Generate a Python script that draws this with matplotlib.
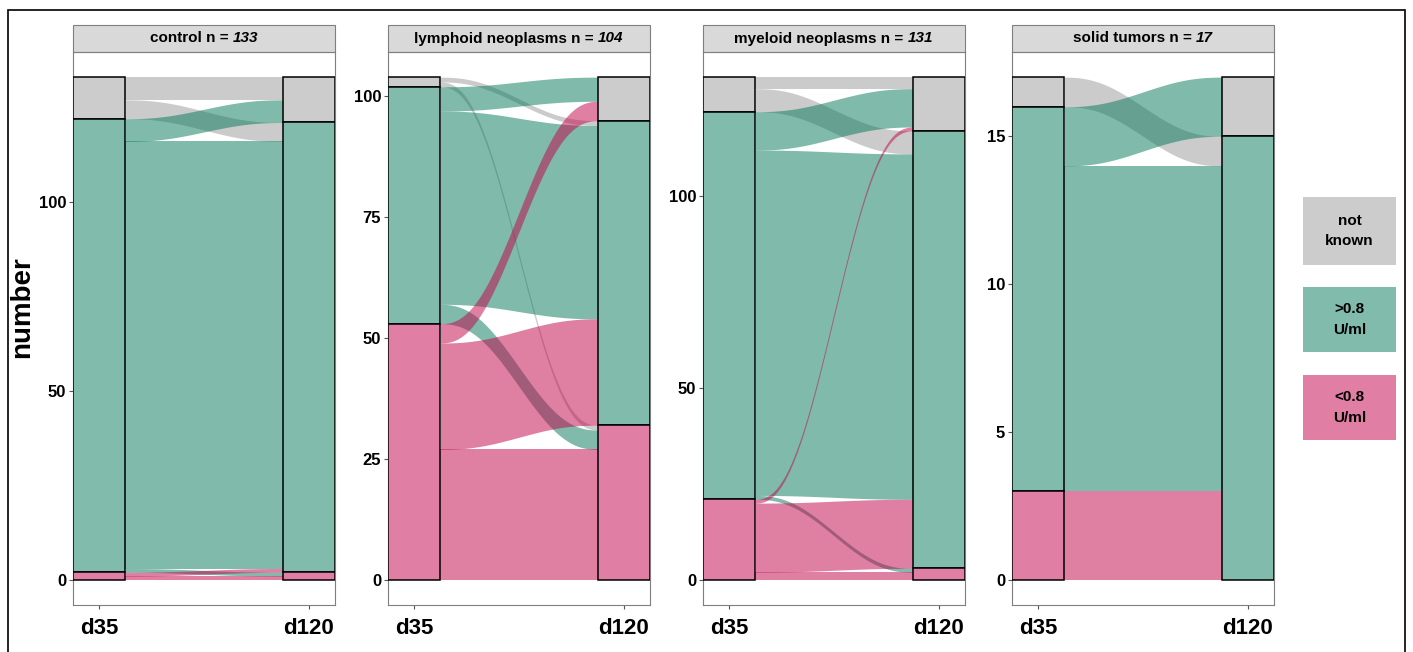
import matplotlib.pyplot as plt
import numpy as np
from matplotlib.patches import Rectangle
from matplotlib.offsetbox import TextArea, HPacker, AnchoredOffsetbox

plt.rcParams['font.family'] = ['Liberation Sans', 'DejaVu Sans']

facet_names = ['control', 'lymphoid neoplasms', 'myeloid neoplasms', 'solid tumors']
facet_n = [133, 104, 131, 17]
facet_ticks = [[0, 50, 100], [0, 25, 50, 75, 100], [0, 50, 100], [0, 5, 10, 15]]
time_labels = ['d35', 'd120']
levels = ['not\nknown', '>0.8\nU/ml', '<0.8\nU/ml']  # top to bottom in the stack

# patients d35 -> d120; rows = group at d35, cols = group at d120
# order of groups: not known, >0.8 U/ml, <0.8 U/ml
flows_control = [[6, 5, 0], [6, 113, 1], [0, 1, 1]]
flows_lymphoid = [[0, 1, 1], [5, 40, 4], [4, 22, 27]]
flows_myeloid = [[3, 6, 0], [10, 90, 1], [1, 18, 2]]
flows_solid = [[0, 1, 0], [2, 11, 0], [0, 3, 0]]
all_flows = [flows_control, flows_lymphoid, flows_myeloid, flows_solid]

fill_cols = ['#cccccc', '#80bbab', '#e07fa3']
flow_alpha = 0.5
# darker base so one layer over white gives the fill colour
def base_col(c):
    rgb = np.array([int(c[i:i+2], 16) for i in (1, 3, 5)]) / 255.
    return tuple(np.clip(1 - (1 - rgb) / flow_alpha, 0, 1))
flow_cols = [base_col(c) for c in fill_cols]

W, H = 1413, 652
fig = plt.figure(figsize=(W / 100, H / 100), dpi=100)

panel_left = [73, 388, 703, 1012]
panel_w = 262
panel_top, panel_bot = 52, 605
strip_h = 27
sw = 0.25  # stratum width

def stack_bottoms(h):
    # <0.8 at the bottom, then >0.8, not known on top
    return [h[2] + h[1], h[2], 0]

t = np.linspace(0, 1, 150)
ease = 0.3 * t * t * (3 - 2 * t) + 0.7 * t**3 * (10 - 15 * t + 6 * t**2)

for k in range(4):
    F = np.array(all_flows[k])
    ax = fig.add_axes([panel_left[k] / W, (H - panel_bot) / H,
                       panel_w / W, (panel_bot - panel_top) / H])
    n = facet_n[k]
    ax.set_xlim(1 - sw / 2, 2 + sw / 2)
    ax.set_ylim(-0.05 * n, 1.05 * n)

    hl = F.sum(axis=1)
    hr = F.sum(axis=0)
    bl = stack_bottoms(hl)
    br = stack_bottoms(hr)

    # lode positions
    left_pos = {}
    for s in range(3):
        cur = bl[s] + hl[s]
        for d in range(3):
            left_pos[(s, d)] = (cur, cur - F[s, d])
            cur -= F[s, d]
    right_pos = {}
    for d in range(3):
        cur = br[d] + hr[d]
        for s in range(3):
            right_pos[(s, d)] = (cur, cur - F[s, d])
            cur -= F[s, d]

    x0, x1 = 1 + sw / 2, 2 - sw / 2
    xs = x0 + (x1 - x0) * t
    for s in range(3):
        for d in range(3):
            if F[s, d] == 0:
                continue
            lt, lb = left_pos[(s, d)]
            rt, rb = right_pos[(s, d)]
            ytop = lt + (rt - lt) * ease
            ybot = lb + (rb - lb) * ease
            ax.fill_between(xs, ybot, ytop, color=flow_cols[s], alpha=flow_alpha,
                            lw=0, zorder=2)

    for xpos, h, b in [(1, hl, bl), (2, hr, br)]:
        for s in range(3):
            if h[s] == 0:
                continue
            ax.add_patch(Rectangle((xpos - sw / 2, b[s]), sw, h[s], fc=fill_cols[s],
                                   ec='black', lw=1.1, zorder=3))

    ax.set_yticks(facet_ticks[k])
    ax.set_yticklabels([str(v) for v in facet_ticks[k]], fontsize=12, fontweight='bold')
    ax.set_xticks([1, 2])
    ax.set_xticklabels(time_labels, fontsize=16, fontweight='bold')
    ax.tick_params(axis='y', length=3, color='#555555', pad=2)
    ax.tick_params(axis='x', length=3, color='#555555', pad=6)
    for sp in ax.spines.values():
        sp.set_color('#7f7f7f')
        sp.set_linewidth(0.8)

    sh = strip_h / (panel_bot - panel_top)
    ax.add_patch(Rectangle((0, 1), 1, sh, transform=ax.transAxes, fc='#d9d9d9',
                           ec='#7f7f7f', lw=0.8, clip_on=False))
    lab = HPacker(children=[
        TextArea(facet_names[k] + ' n = ', textprops=dict(fontsize=11, fontweight='bold')),
        TextArea(str(n), textprops=dict(fontsize=11, fontweight='bold', style='italic'))],
        pad=0, sep=0, align='baseline')
    ab = AnchoredOffsetbox(loc='center', child=lab, frameon=False, pad=0, borderpad=0,
                           bbox_to_anchor=(0.5, 1 + sh / 2), bbox_transform=ax.transAxes)
    ax.add_artist(ab)

fig.text(22 / W, 1 - 307 / H, 'number', rotation=90, fontsize=20, fontweight='bold',
         ha='center', va='center')

# legend boxes
leg_boxes = [(197, 265), (287, 352), (375, 440)]
for i, (y0, y1) in enumerate(leg_boxes):
    fig.add_artist(Rectangle((1303 / W, 1 - y1 / H), 93 / W, (y1 - y0) / H,
                             transform=fig.transFigure, fc=fill_cols[i], ec='none'))
    fig.text(1349.5 / W, 1 - (y0 + y1) / 2 / H, levels[i], ha='center', va='center',
             fontsize=11, fontweight='bold', linespacing=1.6)

fig.add_artist(Rectangle((8 / W, -0.05), (1405 - 8) / W, 1.05 - 10 / H,
                         transform=fig.transFigure, fill=False, ec='black', lw=1.2))

fig.savefig('out.png', dpi=100)
